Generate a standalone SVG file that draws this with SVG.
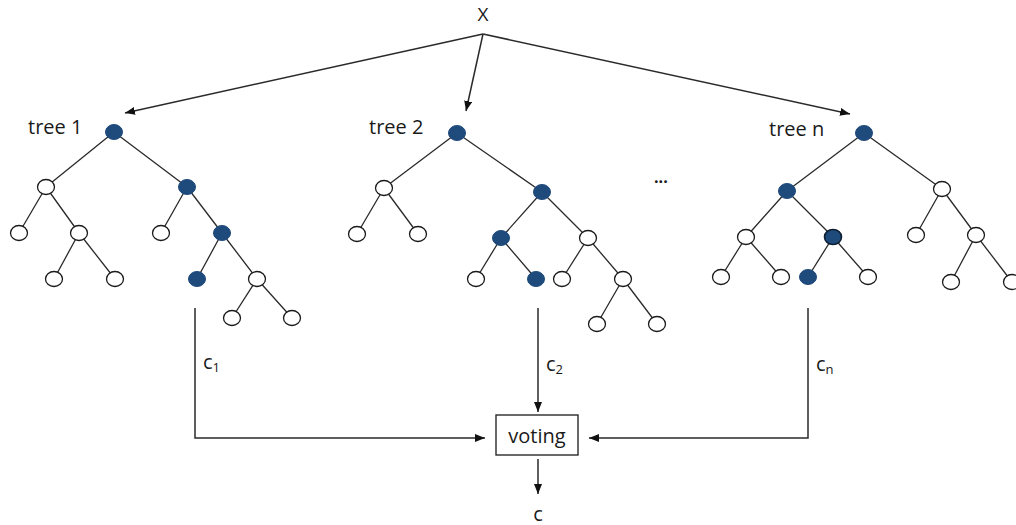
<svg xmlns="http://www.w3.org/2000/svg" width="1016" height="525" viewBox="0 0 1016 525">
<style>
.t{font-family:"Open Sans","Liberation Sans",sans-serif;fill:#1a1a1a}
.lbl{font-size:20px}
.sub{font-size:13px}
.e{stroke:#2a2a2a;stroke-width:1.3;fill:none}
.c{stroke:#2a2a2a;stroke-width:1.5;fill:none}
.o{fill:#fff;stroke:#1a1a1a;stroke-width:1.3}
.f{fill:#1f4a7c;stroke:#1f4a7c;stroke-width:1}
.fd{fill:#1f4a7c;stroke:#0f1f33;stroke-width:1.6}
</style>
<defs>
<marker id="ah" markerUnits="userSpaceOnUse" markerWidth="11" markerHeight="9" refX="10" refY="4" orient="auto">
<path d="M0,0 L10,4 L0,8 z" fill="#111"/>
</marker>
</defs>
<g id="connectors">
<path class="c" d="M483,34 L125,113" marker-end="url(#ah)"/>
<path class="c" d="M483,34 L466,111" marker-end="url(#ah)"/>
<path class="c" d="M483,34 L850,114" marker-end="url(#ah)"/>
<path class="e" d="M114,132 L46,187 M114,132 L187,187 M46,187 L19,233 M46,187 L79,233 M79,233 L54,279 M79,233 L115,279 M187,187 L161,233 M187,187 L222,233 M222,233 L197,279 M222,233 L257,279 M257,279 L232,318 M257,279 L292,318"/>
<path class="e" d="M457,133 L384,188 M457,133 L542,192 M384,188 L357,234 M384,188 L418,234 M542,192 L501,238 M542,192 L588,238 M501,238 L476,279 M501,238 L536,279 M588,238 L562,279 M588,238 L623,279 M623,279 L597,324 M623,279 L657,324"/>
<path class="e" d="M864,133 L787,191 M864,133 L942,189 M787,191 L746,237 M787,191 L833,237 M746,237 L721,277 M746,237 L781,277 M833,237 L808,277 M833,237 L868,277 M942,189 L916,235 M942,189 L976,235 M976,235 L951,282 M976,235 L1012,282"/>
<path class="c" d="M195,308 L195,438 L485,438" marker-end="url(#ah)"/>
<path class="c" d="M538,308 L538,412" marker-end="url(#ah)"/>
<path class="c" d="M808,308 L808,438 L589,438" marker-end="url(#ah)"/>
<path class="c" d="M538,459 L538,494" marker-end="url(#ah)"/>
</g>
<g id="input"><text class="t" x="483" y="21" font-size="19" text-anchor="middle">X</text></g>
<g id="tree1-label"><text class="t lbl" x="28" y="134">tree 1</text></g>
<g id="tree2-label"><text class="t lbl" x="369" y="134">tree 2</text></g>
<g id="treen-label"><text class="t lbl" x="769" y="136">tree n</text></g>
<g id="dots"><text class="t" x="654" y="183" font-size="16" font-weight="bold">...</text></g>
<g id="t1_0"><ellipse class="f" cx="114" cy="132" rx="8.5" ry="7.5"/></g>
<g id="t1_1"><ellipse class="o" cx="46" cy="187" rx="8.5" ry="7.5"/></g>
<g id="t1_2"><ellipse class="f" cx="187" cy="187" rx="8.5" ry="7.5"/></g>
<g id="t1_3"><ellipse class="o" cx="19" cy="233" rx="8.5" ry="7.5"/></g>
<g id="t1_4"><ellipse class="o" cx="79" cy="233" rx="8.5" ry="7.5"/></g>
<g id="t1_5"><ellipse class="o" cx="161" cy="233" rx="8.5" ry="7.5"/></g>
<g id="t1_6"><ellipse class="f" cx="222" cy="233" rx="8.5" ry="7.5"/></g>
<g id="t1_7"><ellipse class="o" cx="54" cy="279" rx="8.5" ry="7.5"/></g>
<g id="t1_8"><ellipse class="o" cx="115" cy="279" rx="8.5" ry="7.5"/></g>
<g id="t1_9"><ellipse class="f" cx="197" cy="279" rx="8.5" ry="7.5"/></g>
<g id="t1_10"><ellipse class="o" cx="257" cy="279" rx="8.5" ry="7.5"/></g>
<g id="t1_11"><ellipse class="o" cx="232" cy="318" rx="8.5" ry="7.5"/></g>
<g id="t1_12"><ellipse class="o" cx="292" cy="318" rx="8.5" ry="7.5"/></g>
<g id="t2_0"><ellipse class="f" cx="457" cy="133" rx="8.5" ry="7.5"/></g>
<g id="t2_1"><ellipse class="o" cx="384" cy="188" rx="8.5" ry="7.5"/></g>
<g id="t2_2"><ellipse class="f" cx="542" cy="192" rx="8.5" ry="7.5"/></g>
<g id="t2_3"><ellipse class="o" cx="357" cy="234" rx="8.5" ry="7.5"/></g>
<g id="t2_4"><ellipse class="o" cx="418" cy="234" rx="8.5" ry="7.5"/></g>
<g id="t2_5"><ellipse class="f" cx="501" cy="238" rx="8.5" ry="7.5"/></g>
<g id="t2_6"><ellipse class="o" cx="588" cy="238" rx="8.5" ry="7.5"/></g>
<g id="t2_7"><ellipse class="o" cx="476" cy="279" rx="8.5" ry="7.5"/></g>
<g id="t2_8"><ellipse class="f" cx="536" cy="279" rx="8.5" ry="7.5"/></g>
<g id="t2_9"><ellipse class="o" cx="562" cy="279" rx="8.5" ry="7.5"/></g>
<g id="t2_10"><ellipse class="o" cx="623" cy="279" rx="8.5" ry="7.5"/></g>
<g id="t2_11"><ellipse class="o" cx="597" cy="324" rx="8.5" ry="7.5"/></g>
<g id="t2_12"><ellipse class="o" cx="657" cy="324" rx="8.5" ry="7.5"/></g>
<g id="tn_0"><ellipse class="f" cx="864" cy="133" rx="8.5" ry="7.5"/></g>
<g id="tn_1"><ellipse class="f" cx="787" cy="191" rx="8.5" ry="7.5"/></g>
<g id="tn_2"><ellipse class="o" cx="942" cy="189" rx="8.5" ry="7.5"/></g>
<g id="tn_3"><ellipse class="o" cx="746" cy="237" rx="8.5" ry="7.5"/></g>
<g id="tn_4"><ellipse class="fd" cx="833" cy="237" rx="8.5" ry="7.5"/></g>
<g id="tn_5"><ellipse class="o" cx="916" cy="235" rx="8.5" ry="7.5"/></g>
<g id="tn_6"><ellipse class="o" cx="976" cy="235" rx="8.5" ry="7.5"/></g>
<g id="tn_7"><ellipse class="o" cx="721" cy="277" rx="8.5" ry="7.5"/></g>
<g id="tn_8"><ellipse class="o" cx="781" cy="277" rx="8.5" ry="7.5"/></g>
<g id="tn_9"><ellipse class="f" cx="808" cy="277" rx="8.5" ry="7.5"/></g>
<g id="tn_10"><ellipse class="o" cx="868" cy="277" rx="8.5" ry="7.5"/></g>
<g id="tn_11"><ellipse class="o" cx="951" cy="282" rx="8.5" ry="7.5"/></g>
<g id="tn_12"><ellipse class="o" cx="1012" cy="282" rx="8.5" ry="7.5"/></g>
<g id="c1-label"><text class="t lbl" x="203" y="369">c<tspan class="sub" dy="3">1</tspan></text></g>
<g id="c2-label"><text class="t lbl" x="546" y="371">c<tspan class="sub" dy="3">2</tspan></text></g>
<g id="cn-label"><text class="t lbl" x="816" y="371">c<tspan class="sub" dy="3">n</tspan></text></g>
<g id="voting"><rect x="496" y="415" width="82" height="40" fill="#fff" stroke="#2a2a2a" stroke-width="1.4"/><text class="t lbl" x="537" y="443" text-anchor="middle">voting</text></g>
<g id="output"><text class="t lbl" x="538" y="521" text-anchor="middle">c</text></g>
</svg>
